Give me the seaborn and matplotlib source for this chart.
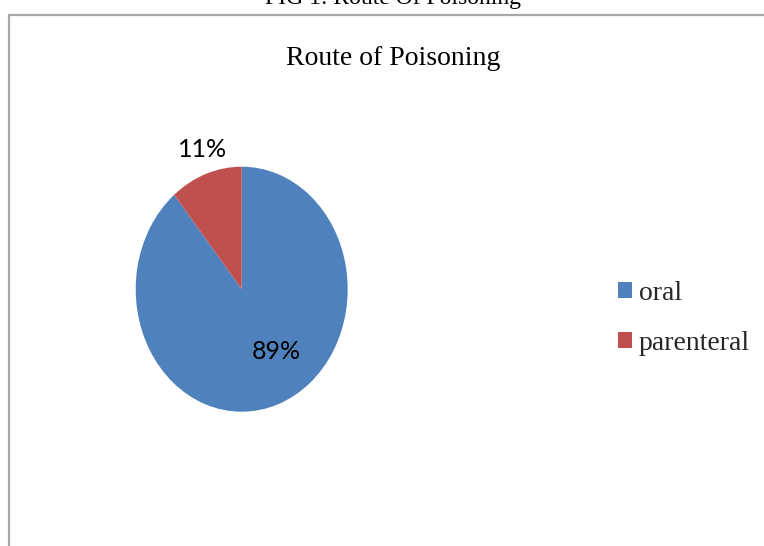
import matplotlib
matplotlib.use("Agg")
import matplotlib.pyplot as plt
from matplotlib.patches import Rectangle
import seaborn as sns

# Route of poisoning shares (%)
routes = ["oral", "parenteral"]
shares = [89, 11]
colors = ["#4F81BD", "#C0504D"]

sns.set_theme(style="white")
plt.rcParams["font.family"] = ["Liberation Serif", "DejaVu Serif"]

fig = plt.figure(figsize=(7.64, 5.46), dpi=100)
W, H = 764, 546

def fx(px):
    return px / W

def fy(py):
    return 1 - py / H

# Figure caption, partly above the page edge
fig.text(fx(393), fy(4), "FIG 1: Route Of Poisoning", ha="center", va="baseline",
         fontsize=17, color="black")

# Chart frame
fig.patches.append(Rectangle((fx(8.5), fy(600)), fx(800), fy(15) - fy(600),
                             transform=fig.transFigure, fill=False,
                             edgecolor="#a8a8a8", linewidth=1.6))

# Chart title
fig.text(fx(393), fy(65), "Route of Poisoning", ha="center", va="baseline",
         fontsize=20, color="black")

# Pie, stretched vertically as in the chart area
ax = fig.add_axes([fx(135.7), fy(411.7), fx(212), 245 / H])
wedges, _ = ax.pie(shares, colors=colors, startangle=90, counterclock=False,
                   radius=1, wedgeprops=dict(linewidth=0))
ax.set_aspect("auto")
ax.set_xlim(-1, 1)
ax.set_ylim(-1, 1)
ax.axis("off")

label_pos = [(0.324, -0.506), (-0.37, 1.143)]
for v, (x, y) in zip(shares, label_pos):
    ax.text(x, y, f"{v}%", ha="center", va="center", fontsize=18,
            family=["Lato", "DejaVu Sans"], color="black", clip_on=False)

leg = fig.legend(wedges, routes, loc="center left",
                 bbox_to_anchor=(fx(618), fy(318)), frameon=False,
                 fontsize=20, handlelength=0.5, handleheight=0.5,
                 handletextpad=0.25, labelspacing=0.9, borderpad=0,
                 borderaxespad=0)

fig.savefig("out.png", dpi=100)
